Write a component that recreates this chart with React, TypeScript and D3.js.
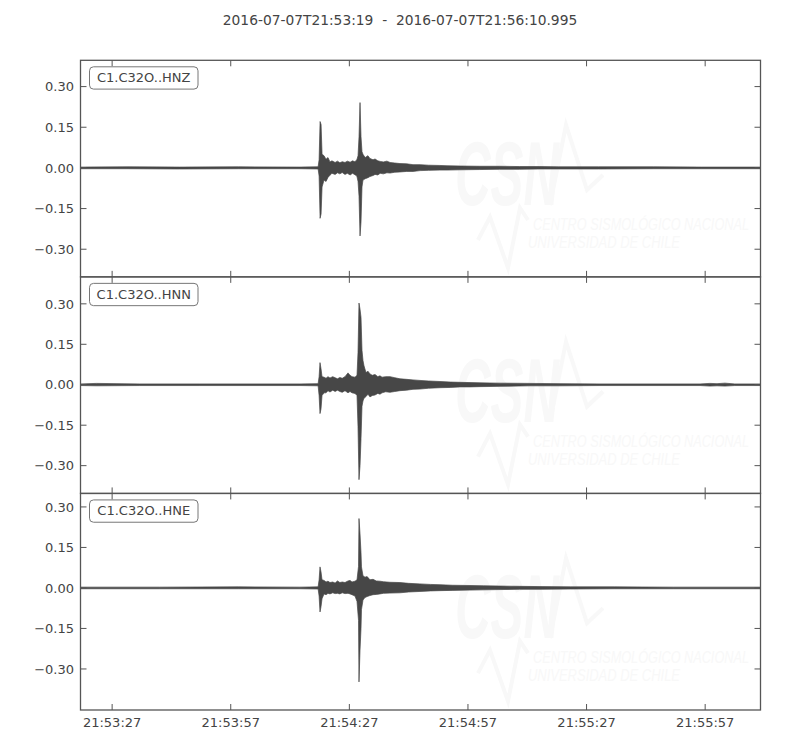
import React from "react";
import * as d3 from "d3";

// ---------- data ----------
const titleText = "2016-07-07T21:53:19  -  2016-07-07T21:56:10.995";
const durationSec = 171.995; // seconds from 21:53:19
const xTickOffsets = [8, 38, 68, 98, 128, 158];
const xTickLabels = ["21:53:27", "21:53:57", "21:54:27", "21:54:57", "21:55:27", "21:55:57"];
const yTickValues = [0.3, 0.15, 0, -0.15, -0.3];
const channelNames = ["C1.C32O..HNZ", "C1.C32O..HNN", "C1.C32O..HNE"];
const yDomains: [number, number][] = [
  [-0.402, 0.397],
  [-0.403, 0.4],
  [-0.452, 0.35],
];

// envelope: [seconds since start, max amplitude, min amplitude]
const hnzEnvelope: [number, number, number][] = [
  [0, 0.003, -0.003], [12, 0.004, -0.003], [25, 0.003, -0.004], [40, 0.004, -0.003],
  [55.5, 0.003, -0.003], [60.1, 0.004, -0.004], [60.35, 0.03, -0.03], [60.6, 0.171, -0.186],
  [60.85, 0.16, -0.17], [61.1, 0.05, -0.07], [61.6, 0.045, -0.045], [62.1, 0.032, -0.05],
  [62.6, 0.038, -0.035], [63.1, 0.022, -0.027], [63.6, 0.026, -0.02], [64.4, 0.02, -0.024],
  [65.0, 0.025, -0.018], [65.6, 0.019, -0.022], [66.2, 0.023, -0.017], [66.9, 0.02, -0.024],
  [67.5, 0.025, -0.02], [68.2, 0.021, -0.026], [68.8, 0.026, -0.02], [69.4, 0.023, -0.025],
  [69.9, 0.03, -0.03], [70.2, 0.045, -0.05], [70.45, 0.115, -0.105], [70.7, 0.241, -0.251],
  [70.95, 0.115, -0.2], [71.2, 0.06, -0.07], [71.45, 0.05, -0.045], [72.0, 0.038, -0.04],
  [72.7, 0.045, -0.036], [73.2, 0.035, -0.032], [74.0, 0.03, -0.028], [74.5, 0.033, -0.024],
  [75.2, 0.026, -0.026], [75.8, 0.024, -0.02], [76.6, 0.022, -0.022], [77.5, 0.025, -0.018],
  [78.3, 0.02, -0.019], [79.5, 0.018, -0.016], [80.8, 0.016, -0.015], [82.5, 0.015, -0.013],
  [84.1, 0.012, -0.013], [85.9, 0.012, -0.01], [88.0, 0.01, -0.009], [90.9, 0.009, -0.008],
  [92.7, 0.008, -0.008], [96, 0.007, -0.007], [101, 0.006, -0.006], [106, 0.006, -0.005],
  [111, 0.005, -0.005], [116, 0.005, -0.004], [121, 0.004, -0.004], [131, 0.004, -0.004],
  [145, 0.004, -0.003], [157, 0.003, -0.003], [172, 0.003, -0.003],
];

const hnnEnvelope: [number, number, number][] = [
  [0, 0.003, -0.003], [4, 0.005, -0.004], [15, 0.003, -0.003], [30, 0.003, -0.003],
  [55.5, 0.003, -0.003], [60.1, 0.004, -0.004], [60.35, 0.03, -0.04], [60.58, 0.082, -0.107],
  [60.83, 0.06, -0.09], [61.09, 0.03, -0.04], [61.6, 0.028, -0.03], [62.1, 0.024, -0.03],
  [62.6, 0.03, -0.022], [63.1, 0.025, -0.027], [63.8, 0.03, -0.02], [64.4, 0.026, -0.025],
  [65.0, 0.022, -0.02], [65.6, 0.027, -0.025], [66.2, 0.024, -0.028], [66.9, 0.03, -0.022],
  [67.66, 0.044, -0.03], [68.17, 0.035, -0.025], [68.67, 0.03, -0.03], [69.43, 0.028, -0.032],
  [69.94, 0.035, -0.04], [70.19, 0.12, -0.155], [70.44, 0.303, -0.352], [70.7, 0.28, -0.3],
  [70.95, 0.25, -0.2], [71.2, 0.128, -0.08], [71.45, 0.09, -0.06], [71.71, 0.07, -0.05],
  [72.21, 0.045, -0.044], [72.72, 0.05, -0.035], [73.22, 0.04, -0.045], [73.8, 0.035, -0.04],
  [74.49, 0.038, -0.038], [75.2, 0.03, -0.032], [75.75, 0.033, -0.035], [76.26, 0.028, -0.03],
  [77.2, 0.03, -0.026], [78.28, 0.03, -0.028], [79.5, 0.026, -0.025], [80.8, 0.022, -0.022],
  [82.5, 0.02, -0.02], [84.1, 0.018, -0.017], [85.87, 0.016, -0.016], [88.0, 0.014, -0.013],
  [90.93, 0.012, -0.011], [93.5, 0.01, -0.01], [95.99, 0.009, -0.008], [98.52, 0.008, -0.008],
  [101.05, 0.007, -0.007], [106.11, 0.006, -0.006], [113.7, 0.005, -0.004], [121.29, 0.004, -0.004],
  [131.4, 0.003, -0.003], [156.7, 0.003, -0.003], [159.2, 0.005, -0.005], [161, 0.004, -0.004],
  [163, 0.006, -0.005], [165.5, 0.003, -0.003], [172, 0.003, -0.003],
];

const hneEnvelope: [number, number, number][] = [
  [0, 0.003, -0.003], [20, 0.003, -0.003], [40, 0.004, -0.003], [55.5, 0.003, -0.003],
  [60.1, 0.004, -0.004], [60.35, 0.03, -0.03], [60.58, 0.078, -0.089], [60.83, 0.06, -0.07],
  [61.09, 0.03, -0.04], [61.6, 0.028, -0.022], [62.1, 0.022, -0.025], [62.6, 0.025, -0.02],
  [63.1, 0.02, -0.022], [63.8, 0.022, -0.018], [64.4, 0.018, -0.021], [65.0, 0.026, -0.02],
  [65.6, 0.02, -0.022], [66.2, 0.022, -0.018], [66.9, 0.02, -0.021], [67.66, 0.026, -0.02],
  [68.17, 0.028, -0.022], [68.67, 0.022, -0.025], [69.43, 0.025, -0.03], [69.94, 0.03, -0.05],
  [70.32, 0.08, -0.12], [70.44, 0.257, -0.348], [70.7, 0.2, -0.23], [70.95, 0.13, -0.15],
  [71.07, 0.078, -0.08], [71.45, 0.045, -0.045], [71.96, 0.04, -0.035], [72.5, 0.042, -0.032],
  [73.22, 0.03, -0.028], [74.0, 0.032, -0.025], [74.8, 0.026, -0.024], [75.75, 0.025, -0.022],
  [76.6, 0.023, -0.02], [78.28, 0.021, -0.019], [80.8, 0.02, -0.018], [83, 0.017, -0.015],
  [85.87, 0.015, -0.013], [88.5, 0.013, -0.011], [90.93, 0.012, -0.01], [94, 0.01, -0.009],
  [98.52, 0.009, -0.008], [102, 0.008, -0.007], [106.11, 0.007, -0.006], [111, 0.006, -0.005],
  [116.23, 0.005, -0.005], [124, 0.004, -0.004], [135, 0.004, -0.003], [150, 0.003, -0.003],
  [172, 0.003, -0.003],
];

const envelopes = [hnzEnvelope, hnnEnvelope, hneEnvelope];

// ---------- layout ----------
const W = 800;
const H = 750;
const plotLeft = 80.5;
const plotRight = 760.5;
const plotTop = 60.3;
const plotBottom = 710;
const panelH = (plotBottom - plotTop) / 3;
const textColor = "#444";
const frameColor = "#555";
const traceColor = "#474747";
const wmColor = "#f8f8f8";
const font = "'DejaVu Sans', sans-serif";
const wmFont = "'Liberation Sans', Arial, sans-serif";
const tickLen = 6;

const fmt = d3.format(".2f");

// watermark drawn in the coordinates of the first panel, shifted per panel
function Watermark({ shift }: { shift: number }) {
  return (
    <g transform={`translate(0,${shift})`} fill={wmColor} stroke="none">
      <text
        x={455}
        y={205}
        fontFamily={wmFont}
        fontWeight="bold"
        fontStyle="italic"
        fontSize={90}
        textLength={104}
        lengthAdjust="spacingAndGlyphs"
      >
        CSN
      </text>
      <polyline
        points="550,205 566,125 587,190 603,175"
        fill="none"
        stroke={wmColor}
        strokeWidth={4}
      />
      <polyline
        points="478,240 490,217 508,268 520,208 528,220"
        fill="none"
        stroke={wmColor}
        strokeWidth={4}
      />
      <text
        x={533}
        y={230}
        fontFamily={wmFont}
        fontStyle="italic"
        fontSize={17}
        textLength={216}
        lengthAdjust="spacingAndGlyphs"
      >
        CENTRO SISMOLÓGICO NACIONAL
      </text>
      <text
        x={528}
        y={248}
        fontFamily={wmFont}
        fontStyle="italic"
        fontSize={17}
        textLength={152}
        lengthAdjust="spacingAndGlyphs"
      >
        UNIVERSIDAD DE CHILE
      </text>
    </g>
  );
}

export default function App() {
  const x = d3.scaleLinear().domain([0, durationSec]).range([plotLeft, plotRight]);

  return (
    <>
      <style>{`body{margin:0;background:#fff}`}</style>
      <svg width={W} height={H} viewBox={`0 0 ${W} ${H}`} style={{ display: "block" }}>
        <rect x={0} y={0} width={W} height={H} fill="#fff" />
        <text
          x={W / 2}
          y={25}
          textAnchor="middle"
          fontFamily={font}
          fontSize={13.8}
          fill={textColor}
          style={{ whiteSpace: "pre" }}
        >
          {titleText}
        </text>

        {channelNames.map((name, i) => {
          const top = plotTop + i * panelH;
          const bottom = top + panelH;
          const y = d3.scaleLinear().domain(yDomains[i]).range([bottom, top]);
          const area = d3
            .area<[number, number, number]>()
            .x((d) => x(d[0]))
            .y0((d) => y(d[2]))
            .y1((d) => y(d[1]));
          const isLast = i === channelNames.length - 1;
          return (
            <g key={name}>
              <Watermark shift={top - plotTop} />
              <clipPath id={`clip${i}`}>
                <rect x={plotLeft} y={top} width={plotRight - plotLeft} height={panelH} />
              </clipPath>
              <g clipPath={`url(#clip${i})`}>
                <path
                  d={area(envelopes[i]) || ""}
                  fill={traceColor}
                  stroke={traceColor}
                  strokeWidth={0.7}
                  strokeLinejoin="round"
                />
              </g>
              {/* y ticks */}
              {yTickValues.map((v) => (
                <g key={v}>
                  <line x1={plotLeft} x2={plotLeft + tickLen} y1={y(v)} y2={y(v)} stroke={frameColor} strokeWidth={1} />
                  <line x1={plotRight} x2={plotRight - tickLen} y1={y(v)} y2={y(v)} stroke={frameColor} strokeWidth={1} />
                  <text
                    x={plotLeft - 6.5}
                    y={y(v)}
                    dy="0.36em"
                    textAnchor="end"
                    fontFamily={font}
                    fontSize={13}
                    fill={textColor}
                  >
                    {fmt(v)}
                  </text>
                </g>
              ))}
              {/* x ticks */}
              {xTickOffsets.map((t, k) => (
                <g key={t}>
                  <line x1={x(t)} x2={x(t)} y1={top} y2={top + tickLen} stroke={frameColor} strokeWidth={1} />
                  <line x1={x(t)} x2={x(t)} y1={bottom} y2={bottom - tickLen} stroke={frameColor} strokeWidth={1} />
                  {isLast && (
                    <text
                      x={x(t)}
                      y={bottom + 16.5}
                      textAnchor="middle"
                      fontFamily={font}
                      fontSize={13}
                      fill={textColor}
                    >
                      {xTickLabels[k]}
                    </text>
                  )}
                </g>
              ))}
              <rect
                x={plotLeft}
                y={top}
                width={plotRight - plotLeft}
                height={panelH}
                fill="none"
                stroke={frameColor}
                strokeWidth={1.3}
              />
              {/* channel label */}
              <rect
                x={89.5}
                y={top + 6.5}
                width={108.5}
                height={22.3}
                rx={4}
                ry={4}
                fill="#fff"
                stroke="#777"
                strokeWidth={1}
              />
              <text
                x={143.75}
                y={top + 22}
                textAnchor="middle"
                fontFamily={font}
                fontSize={13}
                fill={textColor}
              >
                {name}
              </text>
            </g>
          );
        })}
      </svg>
    </>
  );
}
